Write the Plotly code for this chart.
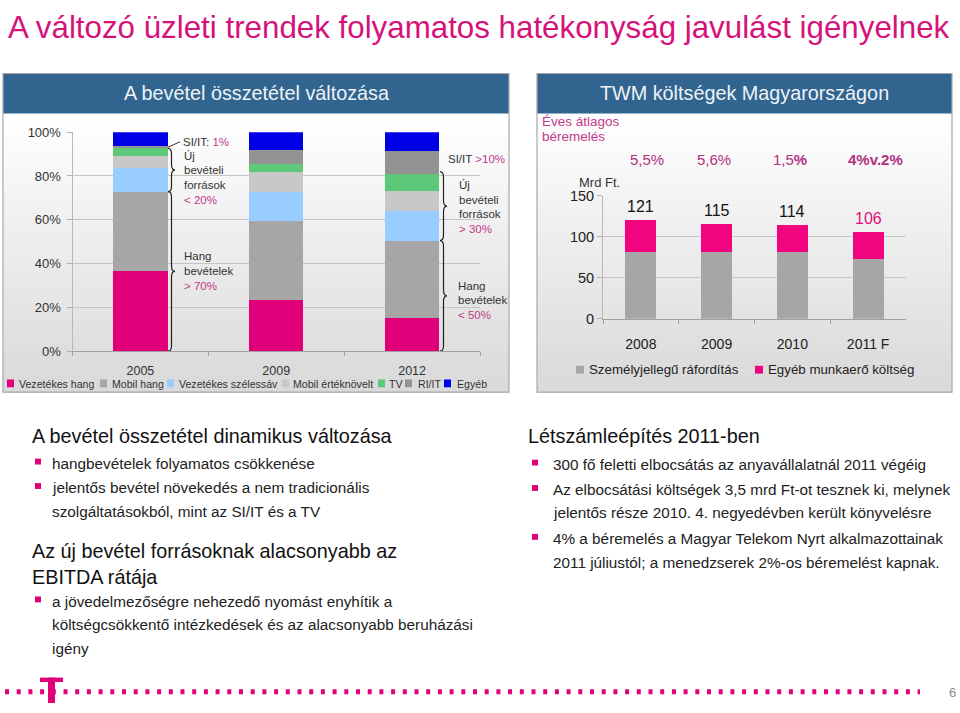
import plotly.graph_objects as go

W, H = 960, 713


def X(px):
    return px / W


def Y(py):
    return 1 - py / H


# ---------------- data ----------------
years_mix = ["2005", "2009", "2012"]
mix_names = ["Vezetékes hang", "Mobil hang", "Vezetékes szélessáv",
             "Mobil értéknövelt", "TV", "RI/IT", "Egyéb"]
vezetekes_hang = [36.4, 23.3, 15.3]
mobil_hang = [36.4, 36.1, 35.2]
vezetekes_szelessav = [10.8, 13.4, 13.4]
mobil_erteknovelt = [5.7, 8.9, 9.4]
tv = [3.3, 3.7, 7.4]
ri_it = [1.0, 6.5, 10.8]
egyeb = [6.4, 8.1, 8.5]
mix_tick_vals = [0, 20, 40, 60, 80, 100]
mix_tick_text = ["0%", "20%", "40%", "60%", "80%", "100%"]

years_cost = ["2008", "2009", "2010", "2011 F"]
szemelyi = [81, 81, 82, 73]
egyeb_munkaero = [40, 34, 32, 33]
cost_totals = [121, 115, 114, 106]
raise_pct = ["5,5%", "5,6%", "1,5<b>%</b>", "<b>4%v.2%</b>"]
cost_tick_vals = [0, 50, 100, 150]

# ---------------- styles ----------------
FONT = "Liberation Sans, Arial, Helvetica, sans-serif"
PINK = "#E2007A"
SOFTPINK = "#C2388A"
HEADER = "#31648F"
mix_colors = ["#E2007A", "#A6A6A6", "#99CCFF", "#C8C8C8", "#5CC878", "#939393", "#0000E6"]
mix_values = [vezetekes_hang, mobil_hang, vezetekes_szelessav, mobil_erteknovelt, tv, ri_it, egyeb]

fig = go.Figure()

for name, vals, col in zip(mix_names, mix_values, mix_colors):
    fig.add_trace(go.Bar(x=years_mix, y=vals, name=name, marker_color=col,
                         marker_line_width=0, width=0.4, xaxis="x", yaxis="y",
                         showlegend=False, hoverinfo="skip"))

fig.add_trace(go.Bar(x=years_cost, y=szemelyi, name="Személyjellegű ráfordítás",
                     marker_color="#A6A6A6", marker_line_width=0, width=0.41,
                     xaxis="x2", yaxis="y2", showlegend=False, hoverinfo="skip"))
fig.add_trace(go.Bar(x=years_cost, y=egyeb_munkaero, name="Egyéb munkaerő költség",
                     marker_color="#F0047F", marker_line_width=0, width=0.41,
                     xaxis="x2", yaxis="y2", showlegend=False, hoverinfo="skip"))

shapes = []
ann = []


def text(px, py, s, size=13, color="#333333", anchor="left"):
    ann.append(dict(x=X(px), y=Y(py), xref="paper", yref="paper", text=s, showarrow=False,
                    xanchor=anchor, yanchor="middle",
                    font=dict(size=size, color=color, family=FONT)))


def rect(x0, y0, x1, y1, fill, line=None, layer="below"):
    shapes.append(dict(type="rect", xref="paper", yref="paper",
                       x0=X(x0), x1=X(x1), y0=Y(y1), y1=Y(y0),
                       fillcolor=fill, line=dict(width=0) if line is None else line,
                       layer=layer))


# panel backgrounds (gradient) and headers
for (px0, px1) in [(3, 509), (537, 952)]:
    top, bot = 108, 393
    n = 40
    for i in range(n):
        c = int(255 - (255 - 218) * (i / (n - 1)))
        y0 = top + (bot - top) * i / n
        y1 = top + (bot - top) * (i + 1) / n + 0.6
        rect(px0, y0, px1, y1, f"rgb({c},{c},{c})")
    rect(px0, 67, px1, 108, HEADER)
    rect(px0, 67, px1, 393, "rgba(0,0,0,0)", line=dict(color="#A8A8A8", width=1.2))

text(256, 87, "A bevétel összetétel változása", 19.8, "#EEF3F8", "center")
text(744, 87, "TWM költségek Magyarországon", 19.8, "#EEF3F8", "center")

# main title
text(6, 20, "A változó üzleti trendek folyamatos hatékonyság javulást igényelnek", 31.3,
     "#D6127A")

# ---------- left chart notes & braces ----------
cum = [0.0] * 3
cums = []
for vals in mix_values:
    cum = [c + v for c, v in zip(cum, vals)]
    cums.append(cum)
hang_top = cums[1]
new_top = cums[4]
siit_top = cums[5]


def brace(x0px, v0, v1, w=7, d=2.5, yref="y"):
    x0, xm, xt = X(x0px), X(x0px + w / 2), X(x0px + w)
    ym = (v0 + v1) / 2
    path = (f"M {x0},{v1} Q {xm},{v1} {xm},{v1 - d} L {xm},{ym + d} "
            f"Q {xm},{ym} {xt},{ym} Q {xm},{ym} {xm},{ym - d} "
            f"L {xm},{v0 + d} Q {xm},{v0} {x0},{v0}")
    shapes.append(dict(type="path", path=path, xref="paper", yref=yref,
                       line=dict(color="#222222", width=1.2), layer="above"))


brace(168, 0, hang_top[0])
brace(168, hang_top[0], new_top[0])
brace(440, 0, hang_top[2])
brace(440, hang_top[2], new_top[2] + 1.3)
shapes.append(dict(type="line", xref="paper", yref="y", x0=X(168), x1=X(180),
                   y0=siit_top[0] - 0.5, y1=siit_top[0] + 2.0,
                   line=dict(color="#333333", width=1)))

NOTE = 11.5
text(181, 137, "SI/IT: <span style='color:%s'>1%%</span>" % SOFTPINK, NOTE, "#333333")
for i, s in enumerate(["Új", "bevételi", "források"]):
    text(182, 151 + 15 * i, s, NOTE, "#333333")
text(182, 196, "< 20%", NOTE, SOFTPINK)
for i, s in enumerate(["Hang", "bevételek"]):
    text(182, 254 + 15 * i, s, NOTE, "#333333")
text(182, 284, "> 70%", NOTE, SOFTPINK)

text(446, 154, "SI/IT <span style='color:%s'>>10%%</span>" % SOFTPINK, NOTE, "#333333")
for i, s in enumerate(["Új", "bevételi", "források"]):
    text(457, 181 + 15 * i, s, NOTE, "#333333")
text(457, 226, "> 30%", NOTE, SOFTPINK)
for i, s in enumerate(["Hang", "bevételek"]):
    text(456, 284 + 15 * i, s, NOTE, "#333333")
text(456, 314, "< 50%", NOTE, SOFTPINK)

# left legend (manual)
leg_pos = [(7, 18), (100, 111), (167, 178), (282, 292), (378, 388), (405, 417), (444, 456)]
for (sx, tx), name, col in zip(leg_pos, mix_names, mix_colors):
    rect(sx, 380, sx + 7, 388, col, layer="above")
    text(tx - 1, 384.5, name, 10.6, "#333333")

# ---------- right chart extras ----------
text(540, 116.5, "Éves átlagos", 13.5, SOFTPINK)
text(540, 131.5, "béremelés", 13.5, SOFTPINK)
pct_shift = [6, -3, -2, 7]
for i, (s, dx) in enumerate(zip(raise_pct, pct_shift)):
    ann.append(dict(x=i, y=Y(155), xref="x2", yref="paper", text=s, showarrow=False,
                    xanchor="center", yanchor="middle", xshift=dx,
                    font=dict(size=15, color="#B0307F", family=FONT)))
text(577, 178, "Mrd Ft.", 13, "#333333")
for i, tot in enumerate(cost_totals):
    ann.append(dict(x=i, y=tot, xref="x2", yref="y2", text=str(tot), showarrow=False,
                    xanchor="center", yanchor="bottom", yshift=3,
                    font=dict(size=16, color="#E0107F" if i == 3 else "#111111", family=FONT)))
rect(576, 366, 584, 374, "#A6A6A6", layer="above")
text(587, 370, "Személyjellegű ráfordítás", 13.3, "#222222")
rect(755, 366, 763, 374, "#F0047F", layer="above")
text(766, 370, "Egyéb munkaerő költség", 13.3, "#222222")

# ---------- bottom text ----------
BODY = 15.3
HEAD = 19.8
text(30, 438, "A bevétel összetétel dinamikus változása", HEAD, "#111111")
left_lines = [(466, True, "hangbevételek folyamatos csökkenése"),
              (491, True, "jelentős bevétel növekedés a nem tradicionális"),
              (515, False, "szolgáltatásokból, mint az SI/IT és a TV")]
text(30, 555, "Az új bevétel forrásoknak alacsonyabb az", HEAD, "#111111")
text(30, 582, "EBITDA rátája", HEAD, "#111111")
left_lines += [(607, True, "a jövedelmezőségre nehezedő nyomást enyhítik a"),
               (631, False, "költségcsökkentő intézkedések és az alacsonyabb beruházási"),
               (655, False, "igény")]
for py, bullet, s in left_lines:
    if bullet:
        rect(35, py - 5, 41, py + 1, PINK, layer="above")
    text(50, py, s, BODY, "#222222")

text(526, 438, "Létszámleépítés 2011-ben", HEAD, "#111111")
right_lines = [(467, True, "300 fő feletti elbocsátás az anyavállalatnál 2011 végéig"),
               (493, True, "Az elbocsátási költségek 3,5 mrd Ft-ot tesznek ki, melynek"),
               (516, False, "jelentős része 2010. 4. negyedévben került könyvelésre"),
               (543, True, "4% a béremelés a Magyar Telekom Nyrt alkalmazottainak"),
               (567, False, "2011 júliustól; a menedzserek 2%-os béremelést kapnak.")]
for py, bullet, s in right_lines:
    if bullet:
        rect(532, py - 5, 538, py + 1, PINK, layer="above")
    text(551, py, s, BODY, "#222222")

# ---------- footer ----------
shapes.append(dict(type="line", xref="paper", yref="paper", x0=X(5), x1=X(920),
                   y0=Y(699.5), y1=Y(699.5),
                   line=dict(color=PINK, width=5, dash="4px,7.7px")))
rect(40, 685, 63, 689.5, PINK, layer="above")
rect(48, 685, 55, 711, PINK, layer="above")
text(952, 700, "6", 13, "#8A8A8A", "center")

fig.update_layout(
    width=W, height=H, margin=dict(l=0, r=0, t=0, b=0),
    paper_bgcolor="white", plot_bgcolor="rgba(0,0,0,0)",
    barmode="stack", showlegend=False,
    xaxis=dict(domain=[X(72.5), X(480)], anchor="y", type="category",
               range=[-0.5, 2.5], showgrid=False, zeroline=False,
               showline=True, linecolor="#A0A0A0", linewidth=1,
               ticks="outside", tickson="boundaries", ticklen=4, tickcolor="#A0A0A0",
               ticklabelstandoff=8,
               tickfont=dict(size=12.5, color="#333333", family=FONT)),
    yaxis=dict(domain=[Y(351), Y(127)], anchor="x", range=[0, 100],
               tickvals=mix_tick_vals, ticktext=mix_tick_text,
               showgrid=True, gridcolor="#C4C4C4", gridwidth=1,
               showline=True, linecolor="#B8B8B8", zeroline=False,
               ticks="outside", ticklen=5, tickcolor="#B0B0B0",
               ticklabelstandoff=3,
               tickfont=dict(size=13, color="#333333", family=FONT)),
    xaxis2=dict(domain=[X(603), X(906)], anchor="y2", type="category",
                range=[-0.5, 3.5], showgrid=False, zeroline=False,
                showline=True, linecolor="#A0A0A0", linewidth=1,
                ticks="outside", tickson="boundaries", ticklen=4, tickcolor="#A0A0A0",
                ticklabelstandoff=12,
                tickfont=dict(size=14, color="#222222", family=FONT)),
    yaxis2=dict(domain=[Y(318), Y(192)], anchor="x2", range=[0, 150],
                tickvals=cost_tick_vals, showgrid=True, gridcolor="#C8C8C8",
                showline=True, linecolor="#B8B8B8", zeroline=False,
                ticks="outside", ticklen=5, tickcolor="#B0B0B0",
                tickfont=dict(size=14.5, color="#222222", family=FONT)),
    shapes=shapes, annotations=ann,
)

fig.write_html("out.html", config={"displayModeBar": False},
               post_script="document.body.style.margin='0px';document.body.style.overflow='hidden';")
